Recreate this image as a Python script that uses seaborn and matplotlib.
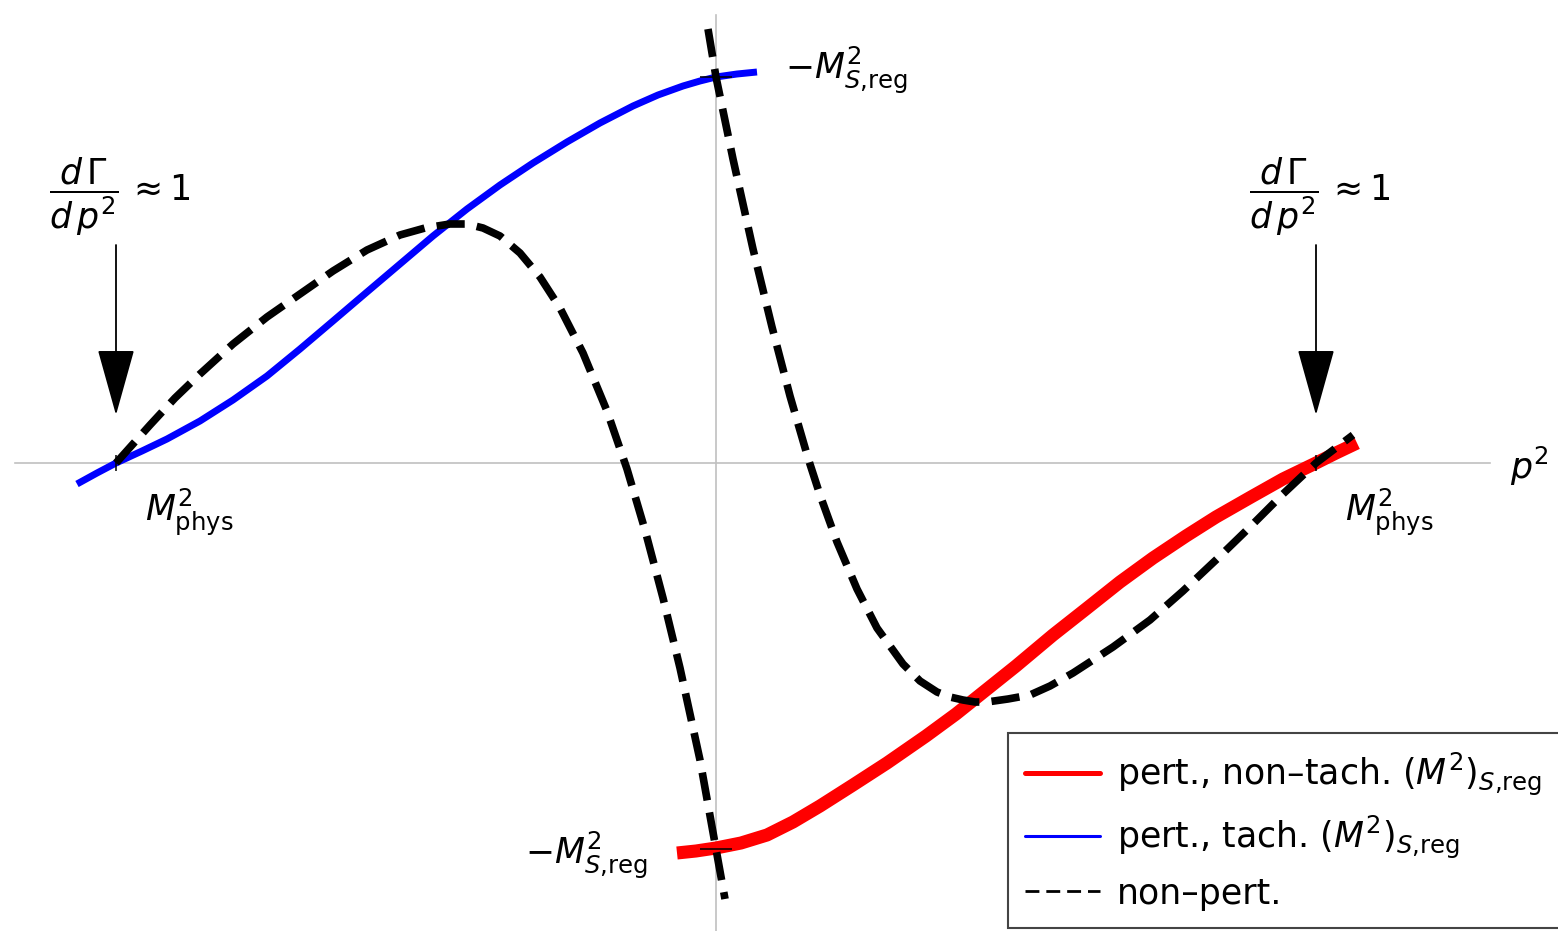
import numpy as np
import pandas as pd
import matplotlib.pyplot as plt
from matplotlib.lines import Line2D
import seaborn as sns

# schematic curves, arbitrary units: M^2_phys sits at p^2 = +-600, M^2_S,reg at +-386
M_PHYS = 600
M_SREG = 386

BLUE_X = [-639, -619, -600, -574, -549, -516, -483, -449, -416, -383, -349, -316, -283,
          -249, -216, -183, -149, -116, -83, -58, -33, -16, 0, 21, 41]
BLUE_Y = [-21, -10, 0, 12, 24, 42, 63, 87, 114, 142, 171, 199, 227,
          254, 278, 300, 321, 340, 357, 368, 377, 382, 386, 389, 391]

RED_X = [-39, -20, 0, 25, 51, 77, 104, 137, 171, 210, 240, 270, 300, 337, 370, 404,
         437, 470, 500, 535, 567, 600, 620, 641]
RED_Y = [-390, -388, -385, -380, -372, -359, -343, -322, -300, -273, -251, -227, -203, -172, -146, -119,
         -95, -73, -54, -34, -16, 0, 10, 20]

NP_LEFT_X = [-600, -583, -566, -541, -516, -483, -449, -416, -383, -349, -316, -291, -266, -249,
             -233, -216, -196, -176, -156, -133, -109, -89, -71, -53, -36, -16, 0, 9]
NP_LEFT_Y = [0, 19, 38, 65, 89, 119, 146, 169, 192, 213, 228, 235, 239, 239,
             235, 227, 210, 186, 155, 110, 52, -6, -67, -135, -205, -297, -386, -436]

NP_RIGHT_X = [-8, 0, 17, 37, 56, 74, 92, 104, 121, 141, 161, 187, 204, 221, 234, 247, 259,
              271, 292, 314, 334, 357, 397, 434, 467, 501, 534, 567, 600, 637]
NP_RIGHT_Y = [434, 386, 304, 214, 136, 67, 5, -32, -79, -126, -165, -201, -218, -229, -234, -237, -239,
              -239, -236, -232, -223, -210, -184, -157, -128, -96, -64, -31, 0, 28]

LEGEND_LABELS = [r"pert., non–tach. $(M^2)_{S{,}\mathrm{reg}}$",
                 r"pert., tach. $(M^2)_{S{,}\mathrm{reg}}$",
                 "non–pert."]

sns.set_theme(style="white")
plt.rcParams["font.family"] = ["DejaVu Sans"]
plt.rcParams["mathtext.fontset"] = "dejavusans"
plt.rcParams["text.color"] = "black"

fig = plt.figure(figsize=(15.58, 9.31), dpi=100)
ax = fig.add_axes([0, 0, 1, 1])

red = pd.DataFrame({"p2": RED_X, "f": RED_Y})
blue = pd.DataFrame({"p2": BLUE_X, "f": BLUE_Y})
np_l = pd.DataFrame({"p2": NP_LEFT_X, "f": NP_LEFT_Y})
np_r = pd.DataFrame({"p2": NP_RIGHT_X, "f": NP_RIGHT_Y})

sns.lineplot(data=red, x="p2", y="f", ax=ax, color="#ff0000", linewidth=9.4, sort=False,
             estimator=None, legend=False, zorder=2, solid_capstyle="butt", solid_joinstyle="round")
sns.lineplot(data=blue, x="p2", y="f", ax=ax, color="#0000ff", linewidth=5, sort=False,
             estimator=None, legend=False, zorder=2.1, solid_capstyle="butt", solid_joinstyle="round")
for d in (np_l, np_r):
    sns.lineplot(data=d, x="p2", y="f", ax=ax, color="black", linewidth=5.5, linestyle="--",
                 sort=False, estimator=None, legend=False, zorder=2.2)

ax.set_xlim(-716, 842)
ax.set_ylim(-468, 463)

# axes crossing at the origin
for s in ("top", "right"):
    ax.spines[s].set_visible(False)
ax.spines["bottom"].set_position(("data", 0))
ax.spines["left"].set_position(("data", 0))
ax.spines["bottom"].set_bounds(-701, 774)
ax.spines["left"].set_bounds(-468, 448)
for s in ("bottom", "left"):
    ax.spines[s].set_color("#c0c0c0")
    ax.spines[s].set_linewidth(1.2)
    ax.spines[s].set_zorder(0.5)

ax.set_axisbelow(False)
ax.set_xticks([-M_PHYS, M_PHYS])
ax.set_yticks([-M_SREG, M_SREG])
ax.set_xticklabels([])
ax.set_yticklabels([])
ax.tick_params(axis="x", direction="inout", length=11, width=1.1, color="black", bottom=True)
ax.tick_params(axis="y", direction="inout", length=23, width=1.1, color="black", left=True)
ax.set_xlabel("")
ax.set_ylabel("")

fs = 25
for xm in (-M_PHYS, M_PHYS):
    ax.text(xm - 67, 266, r"$\dfrac{d\,\Gamma}{d\,p^2}\,\approx 1$", ha="left", va="center", fontsize=fs)
    ax.annotate("", xy=(xm, 48), xytext=(xm, 218),
                arrowprops=dict(arrowstyle="-|>,head_length=4.3,head_width=1.2", mutation_scale=10,
                                lw=1.3, color="black", shrinkA=0, shrinkB=0))
    ax.text(xm + 29, -49, r"$M^2_{\mathrm{phys}}$", ha="left", va="center", fontsize=fs)

ax.text(794, -3, r"$p^2$", ha="left", va="center", fontsize=fs)
ax.text(69, 393, r"$-M^2_{S{,}\mathrm{reg}}$", ha="left", va="center", fontsize=fs)
ax.text(-69, -392, r"$-M^2_{S{,}\mathrm{reg}}$", ha="right", va="center", fontsize=fs)

handles = [Line2D([], [], color="#ff0000", lw=3.6),
           Line2D([], [], color="#0000ff", lw=2.2),
           Line2D([], [], color="black", lw=2.0, dashes=(5, 2.5))]
leg = ax.legend(handles, LEGEND_LABELS, loc="lower left", bbox_to_anchor=(1008 / 1558, 3 / 931),
                borderaxespad=0, fontsize=fs, fancybox=False, framealpha=1, handlelength=2.15,
                edgecolor="#444444", borderpad=0.5, labelspacing=0.45, handletextpad=0.5)
leg.get_frame().set_linewidth(1.5)
leg.set_zorder(5)

fig.savefig("out.png", dpi=100)
